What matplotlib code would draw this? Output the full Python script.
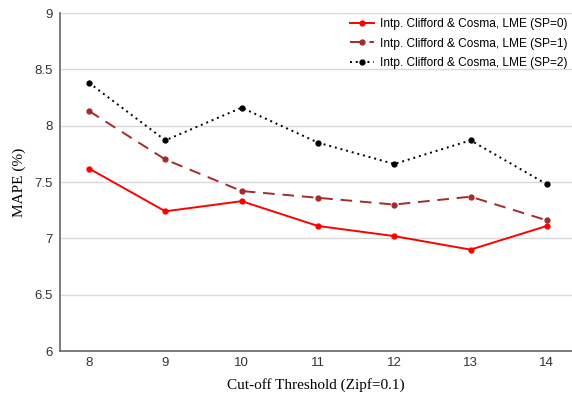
import matplotlib
matplotlib.use("Agg")
import matplotlib.pyplot as plt

# cut-off thresholds and MAPE per setting
thresholds = [8, 9, 10, 11, 12, 13, 14]
mape_sp0 = [7.62, 7.24, 7.33, 7.11, 7.02, 6.90, 7.11]
mape_sp1 = [8.13, 7.70, 7.42, 7.36, 7.30, 7.37, 7.16]
mape_sp2 = [8.38, 7.87, 8.16, 7.85, 7.66, 7.87, 7.48]
labels = ["Intp. Clifford & Cosma, LME (SP=0)",
          "Intp. Clifford & Cosma, LME (SP=1)",
          "Intp. Clifford & Cosma, LME (SP=2)"]

fig = plt.figure(figsize=(5.72, 3.96), dpi=100)
ax = fig.add_axes([0.105, 0.1136, 0.895, 0.8535])

ax.plot(thresholds, mape_sp0, color="red", lw=1.4, marker="o", ms=3.5, label=labels[0])
ax.plot(thresholds, mape_sp1, color="#a52a2a", lw=1.4, ls=(0, (6, 4)), marker="o", ms=3.5, label=labels[1])
ax.plot(thresholds, mape_sp2, color="black", lw=1.4, ls=(0, (1, 2)), marker="o", ms=3.5, label=labels[2])

ax.set_xlim(7.62, 14.33)
ax.set_ylim(6, 9)
ax.set_xticks(thresholds)
ax.set_yticks([6, 6.5, 7, 7.5, 8, 8.5, 9])
ax.set_yticklabels(["6", "6.5", "7", "7.5", "8", "8.5", "9"])
ax.yaxis.grid(True, color="#d9d9d9", lw=1)
ax.set_axisbelow(True)

for s in ["top", "right"]:
    ax.spines[s].set_visible(False)
for s in ["left", "bottom"]:
    ax.spines[s].set_color("#666666")
    ax.spines[s].set_linewidth(1.2)
ax.tick_params(axis="x", length=0, pad=4, labelsize=9.5, labelcolor="#333333")
ax.tick_params(axis="y", length=0, pad=5, labelsize=9.5, labelcolor="#333333")
for t in ax.get_xticklabels() + ax.get_yticklabels():
    t.set_family("Liberation Sans")

ax.set_xlabel("Cut-off Threshold (Zipf=0.1)", family="Liberation Serif", fontsize=11, labelpad=7)
ax.set_ylabel("MAPE (%)", family="Liberation Serif", fontsize=11, labelpad=6)

ax.legend(loc="upper right", frameon=False, prop={"family": "Liberation Sans", "size": 8.6},
          handlelength=2.0, handletextpad=0.5, labelspacing=0.6,
          borderaxespad=0.0, bbox_to_anchor=(1.0, 0.998))

fig.savefig("out.png", dpi=100)
